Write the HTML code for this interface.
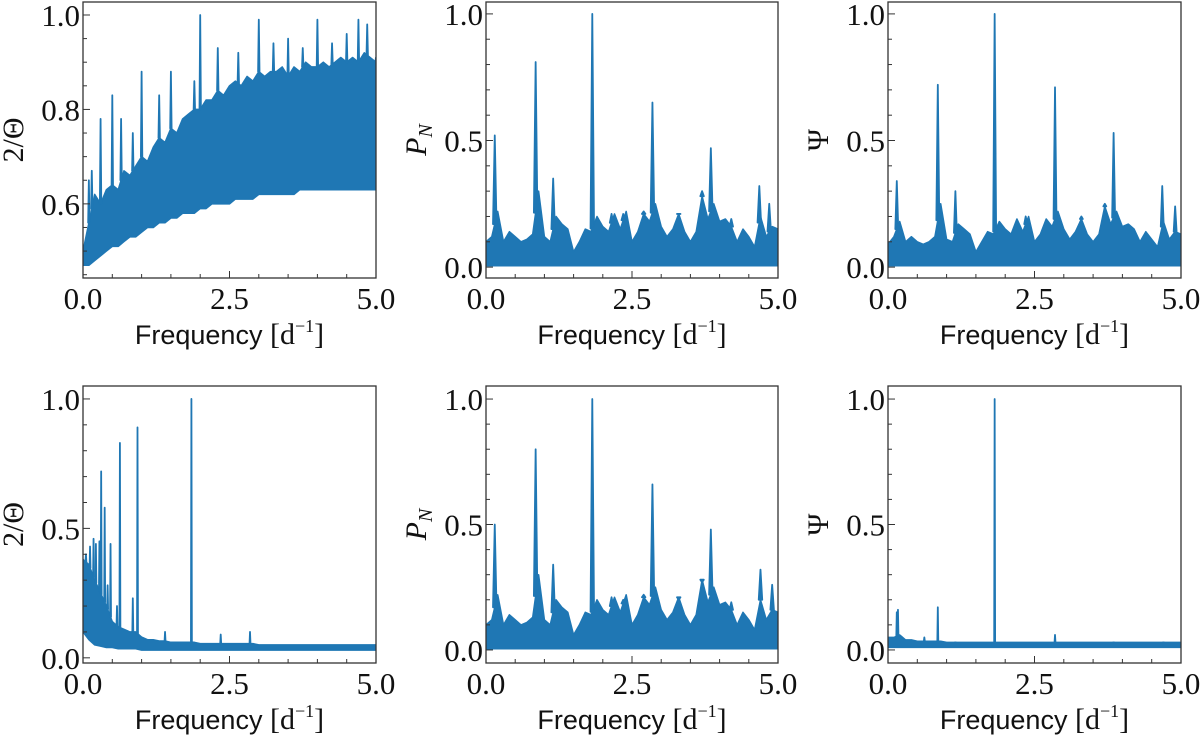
<!DOCTYPE html>
<html><head><meta charset="utf-8"><style>
html,body{margin:0;padding:0;background:#fff;}
svg{display:block;}
.tick{font-family:"Liberation Serif",serif;font-size:31px;fill:#111;}
.xl{font-family:"Liberation Sans",sans-serif;font-size:27px;fill:#111;}
.yl{font-family:"Liberation Serif",serif;font-size:30px;fill:#111;}
</style></head><body>
<svg id="fig" width="1200" height="740" viewBox="0 0 1200 740" xmlns="http://www.w3.org/2000/svg"></svg>
<script>
// ---- data (band envelopes sampled every 0.1 d^-1 from 0 to 5) ----
const bandFreq = [0,0.1,0.2,0.3,0.4,0.5,0.6,0.7,0.8,0.9,1.0,1.1,1.2,1.3,1.4,1.5,1.6,1.7,1.8,1.9,2.0,2.1,2.2,2.3,2.4,2.5,2.6,2.7,2.8,2.9,3.0,3.1,3.2,3.3,3.4,3.5,3.6,3.7,3.8,3.9,4.0,4.1,4.2,4.3,4.4,4.5,4.6,4.7,4.8,4.9,5.0];
const p1Hi = [0.50,0.56,0.62,0.60,0.63,0.64,0.63,0.67,0.66,0.68,0.70,0.69,0.72,0.74,0.73,0.76,0.75,0.78,0.79,0.80,0.80,0.82,0.82,0.84,0.83,0.85,0.86,0.85,0.87,0.86,0.88,0.87,0.88,0.88,0.89,0.87,0.89,0.88,0.90,0.89,0.89,0.90,0.89,0.90,0.91,0.90,0.91,0.90,0.92,0.91,0.90];
const p1Lo = [0.47,0.47,0.48,0.49,0.50,0.51,0.51,0.52,0.53,0.53,0.54,0.55,0.55,0.56,0.56,0.57,0.57,0.58,0.58,0.58,0.59,0.59,0.60,0.60,0.60,0.60,0.61,0.61,0.61,0.61,0.62,0.62,0.62,0.62,0.62,0.62,0.62,0.63,0.63,0.63,0.63,0.63,0.63,0.63,0.63,0.63,0.63,0.63,0.63,0.63,0.63];
const p1PeakF = [0.1,0.15,0.3,0.5,0.65,0.85,1.0,1.3,1.5,1.9,2.0,2.3,2.65,3.0,3.25,3.5,3.75,4.0,4.25,4.5,4.7,4.85,5.0];
const p1PeakV = [0.65,0.67,0.78,0.83,0.78,0.75,0.88,0.83,0.88,0.86,1.0,0.93,0.92,0.99,0.94,0.95,0.93,0.99,0.94,0.96,0.99,0.98,0.91];
const p2Hi = [0.10,0.12,0.22,0.10,0.14,0.12,0.10,0.11,0.13,0.30,0.12,0.10,0.20,0.17,0.15,0.06,0.10,0.15,0.14,0.20,0.16,0.14,0.21,0.15,0.22,0.10,0.14,0.21,0.18,0.25,0.16,0.12,0.15,0.21,0.14,0.10,0.14,0.28,0.19,0.25,0.18,0.19,0.16,0.10,0.15,0.12,0.08,0.20,0.12,0.16,0.15];
const p2Lo = [0.005,0.005,0.005,0.005,0.005,0.005,0.005,0.005,0.005,0.005,0.005,0.005,0.005,0.005,0.005,0.005,0.005,0.005,0.005,0.005,0.005,0.005,0.005,0.005,0.005,0.005,0.005,0.005,0.005,0.005,0.005,0.005,0.005,0.005,0.005,0.005,0.005,0.005,0.005,0.005,0.005,0.005,0.005,0.005,0.005,0.005,0.005,0.005,0.005,0.005,0.005];
const p2PeakF = [0.15,0.85,1.15,1.82,2.15,2.35,2.7,2.85,3.3,3.7,3.85,4.2,4.68,4.85];
const p2PeakV = [0.52,0.81,0.35,1.0,0.21,0.21,0.22,0.65,0.21,0.30,0.47,0.19,0.32,0.25];
const p3Hi = [0.09,0.12,0.18,0.10,0.12,0.10,0.09,0.10,0.12,0.25,0.11,0.10,0.17,0.15,0.13,0.06,0.10,0.14,0.13,0.18,0.15,0.13,0.19,0.14,0.20,0.10,0.13,0.19,0.16,0.22,0.15,0.11,0.14,0.19,0.13,0.10,0.13,0.24,0.17,0.22,0.16,0.17,0.15,0.10,0.14,0.11,0.08,0.18,0.11,0.14,0.13];
const p3Lo = p2Lo;
const p3PeakF = [0.15,0.85,1.15,1.82,2.35,2.85,3.3,3.7,3.85,4.68,4.9];
const p3PeakV = [0.34,0.72,0.30,1.0,0.20,0.71,0.20,0.25,0.53,0.32,0.24];
const p4Hi = [0.38,0.36,0.30,0.25,0.20,0.14,0.12,0.11,0.10,0.10,0.08,0.07,0.07,0.065,0.065,0.06,0.06,0.06,0.06,0.06,0.055,0.055,0.055,0.055,0.055,0.055,0.055,0.055,0.055,0.055,0.05,0.05,0.05,0.05,0.05,0.05,0.05,0.05,0.05,0.05,0.05,0.05,0.05,0.05,0.05,0.05,0.05,0.05,0.05,0.05,0.05];
const p4Lo = [0.10,0.07,0.05,0.045,0.04,0.04,0.035,0.035,0.035,0.035,0.03,0.03,0.03,0.03,0.03,0.03,0.03,0.03,0.03,0.03,0.03,0.03,0.03,0.03,0.03,0.03,0.03,0.03,0.03,0.03,0.03,0.03,0.03,0.03,0.03,0.03,0.03,0.03,0.03,0.03,0.03,0.03,0.03,0.03,0.03,0.03,0.03,0.03,0.03,0.03,0.03];
const p4PeakF = [0.05,0.12,0.18,0.22,0.28,0.31,0.37,0.42,0.47,0.58,0.63,0.85,0.93,1.4,1.85,2.35,2.85];
const p4PeakV = [0.40,0.43,0.46,0.44,0.45,0.72,0.58,0.28,0.44,0.20,0.83,0.23,0.89,0.10,1.0,0.09,0.10];
const p5Hi = p2Hi;
const p5Lo = p2Lo;
const p5PeakF = [0.15,0.85,1.15,1.82,2.15,2.35,2.7,2.85,3.3,3.7,3.85,4.2,4.7,4.9];
const p5PeakV = [0.50,0.80,0.34,1.0,0.21,0.20,0.22,0.66,0.20,0.27,0.48,0.19,0.32,0.26];
const p6Hi = [0.05,0.05,0.06,0.04,0.04,0.035,0.035,0.035,0.035,0.035,0.03,0.03,0.03,0.03,0.03,0.03,0.03,0.03,0.03,0.03,0.03,0.03,0.03,0.03,0.03,0.03,0.03,0.03,0.03,0.03,0.03,0.03,0.03,0.03,0.03,0.03,0.03,0.03,0.03,0.03,0.03,0.03,0.03,0.03,0.03,0.03,0.03,0.03,0.03,0.03,0.03];
const p6Lo = [0.01,0.01,0.01,0.01,0.01,0.01,0.01,0.01,0.01,0.01,0.01,0.01,0.01,0.01,0.01,0.01,0.01,0.01,0.01,0.01,0.01,0.01,0.01,0.01,0.01,0.01,0.01,0.01,0.01,0.01,0.01,0.01,0.01,0.01,0.01,0.01,0.01,0.01,0.01,0.01,0.01,0.01,0.01,0.01,0.01,0.01,0.01,0.01,0.01,0.01,0.01];
const p6PeakF = [0.15,0.17,0.62,0.85,1.15,1.82,2.85,3.85,4.7];
const p6PeakV = [0.15,0.16,0.05,0.17,0.03,1.0,0.06,0.03,0.02];
const xTickVals = [0, 2.5, 5];
const xTickLabels = ["0.0", "2.5", "5.0"];

const NS = "http://www.w3.org/2000/svg";
const svg = document.getElementById("fig");
const C = "#1f77b4";
function mk(tag, attrs, parent) {
  const e = document.createElementNS(NS, tag);
  for (const k in attrs) e.setAttribute(k, attrs[k]);
  (parent || svg).appendChild(e);
  return e;
}
const panels = [
  {id:"p1", x0:83, x1:376, yT:2, yB:278, ymin:0.443, ymax:1.0275, hi:p1Hi, lo:p1Lo, pf:p1PeakF, pv:p1PeakV, yt:[0.6,0.8,1.0], ytl:["0.6","0.8","1.0"], minor:0.05, ylab:"2/\u0398", w:0.012},
  {id:"p2", x0:486, x1:778, yT:2, yB:278, ymin:-0.043, ymax:1.047, hi:p2Hi, lo:p2Lo, pf:p2PeakF, pv:p2PeakV, yt:[0,0.5,1.0], ytl:["0.0","0.5","1.0"], minor:0.1, ylab:"PN", w:0.03},
  {id:"p3", x0:888, x1:1181, yT:2, yB:278, ymin:-0.043, ymax:1.047, hi:p3Hi, lo:p3Lo, pf:p3PeakF, pv:p3PeakV, yt:[0,0.5,1.0], ytl:["0.0","0.5","1.0"], minor:0.1, ylab:"\u03A8", w:0.025},
  {id:"p4", x0:83, x1:376, yT:386, yB:663, ymin:-0.02, ymax:1.05, hi:p4Hi, lo:p4Lo, pf:p4PeakF, pv:p4PeakV, yt:[0,0.5,1.0], ytl:["0.0","0.5","1.0"], minor:0.1, ylab:"2/\u0398", w:0.008},
  {id:"p5", x0:486, x1:778, yT:386, yB:663, ymin:-0.052, ymax:1.052, hi:p5Hi, lo:p5Lo, pf:p5PeakF, pv:p5PeakV, yt:[0,0.5,1.0], ytl:["0.0","0.5","1.0"], minor:0.1, ylab:"PN", w:0.03},
  {id:"p6", x0:888, x1:1181, yT:386, yB:663, ymin:-0.052, ymax:1.052, hi:p6Hi, lo:p6Lo, pf:p6PeakF, pv:p6PeakV, yt:[0,0.5,1.0], ytl:["0.0","0.5","1.0"], minor:0.1, ylab:"\u03A8", w:0.008}
];
function interp(arr, f) {
  const i = Math.min(49, Math.max(0, Math.floor(f / 0.1)));
  const t = (f - bandFreq[i]) / 0.1;
  return arr[i] + (arr[i + 1] - arr[i]) * Math.max(0, Math.min(1, t));
}
panels.forEach(p => {
  const g = mk("g", {});
  
  
  const X = f => p.x0 + (f / 5) * (p.x1 - p.x0);
  const Y = v => p.yB - (v - p.ymin) / (p.ymax - p.ymin) * (p.yB - p.yT);
  const clipId = "clip-" + p.id;
  const cp = mk("clipPath", {id: clipId}, g);
  mk("rect", {x: p.x0, y: p.yT, width: p.x1 - p.x0, height: p.yB - p.yT}, cp);
  const dg = mk("g", {"clip-path": "url(#" + clipId + ")"}, g);
  let pts = [];
  bandFreq.forEach((f, i) => pts.push(X(f).toFixed(1) + "," + Y(p.hi[i]).toFixed(1)));
  for (let i = bandFreq.length - 1; i >= 0; i--) pts.push(X(bandFreq[i]).toFixed(1) + "," + Y(p.lo[i]).toFixed(1));
  const band = mk("polygon", {points: pts.join(" "), fill: C, stroke: C, "stroke-width": 1.5, "stroke-linejoin": "round"}, dg);
  
  
  p.pf.forEach((f, i) => {
    const b = interp(p.hi, f);
    const v = p.pv[i];
    const pk = mk("polygon", {points: `${X(f - p.w)},${Y(b)} ${X(f)},${Y(v)} ${X(f + p.w)},${Y(b)}`, fill: C, stroke: C, "stroke-width": 1.8, "stroke-linejoin": "round"}, dg);
    
    
  });
  const fr = mk("rect", {x: p.x0, y: p.yT, width: p.x1 - p.x0, height: p.yB - p.yT, fill: "none", stroke: "#333", "stroke-width": 1.3}, g);
  
  
  for (let f = 0; f <= 5.001; f += 0.5) {
    const major = Math.abs(f % 2.5) < 1e-6 || Math.abs(f % 2.5 - 2.5) < 1e-6;
    mk("line", {x1: X(f), x2: X(f), y1: p.yB, y2: p.yB - (major ? 7 : 4), stroke: "#333", "stroke-width": 1}, g);
  }
  xTickVals.forEach((f, i) => {
    const t = mk("text", {x: X(f), y: p.yB + 31, "text-anchor": "middle", class: "tick"}, g);
    t.textContent = xTickLabels[i];
    
    
  });
  const start = Math.ceil(p.ymin / p.minor - 1e-6) * p.minor;
  for (let v = start; v <= p.ymax + 1e-9; v += p.minor) {
    const major = p.yt.some(t => Math.abs(t - v) < 1e-6);
    mk("line", {x1: p.x0, x2: p.x0 + (major ? 7 : 4), y1: Y(v), y2: Y(v), stroke: "#333", "stroke-width": 1}, g);
  }
  p.yt.forEach((v, i) => {
    const t = mk("text", {x: p.x0 - 3, y: Y(v) + 11, "text-anchor": "end", class: "tick"}, g);
    t.textContent = p.ytl[i];
    
    
  });
  const xl = mk("text", {x: (p.x0 + p.x1) / 2, y: p.yB + 66, "text-anchor": "middle", class: "xl"}, g);
  xl.innerHTML = 'Frequency <tspan font-family="Liberation Serif" font-size="30">[d</tspan><tspan font-family="Liberation Serif" font-size="18" dy="-12">\u22121</tspan><tspan font-family="Liberation Serif" font-size="30" dy="12">]</tspan>';
  
  
  const cy = (p.yT + p.yB) / 2;
  const lx = p.x0 - 60;
  const yl = mk("text", {x: lx, y: cy, "text-anchor": "middle", class: "yl", transform: `rotate(-90 ${lx} ${cy})`}, g);
  if (p.ylab === "PN") {
    yl.innerHTML = '<tspan font-style="italic">P</tspan><tspan font-style="italic" font-size="20" dy="6">N</tspan>';
  } else {
    yl.textContent = p.ylab;
  }
  
  
});
</script>
</body></html>
